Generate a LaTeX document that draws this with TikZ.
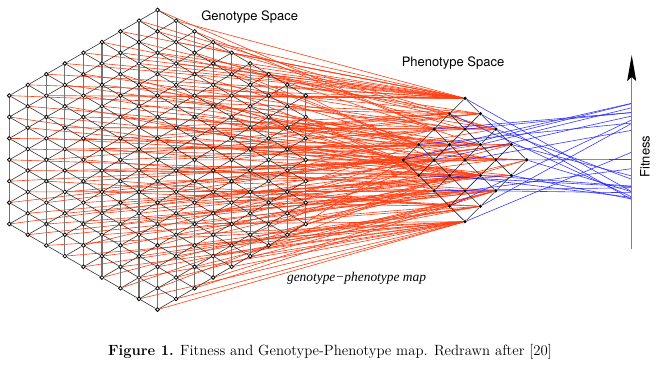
\documentclass[tikz,border=0pt]{standalone}
\usepackage{fontspec}
\newfontfamily\helv{TeX Gyre Heros}
\newfontfamily\timesf{Liberation Serif}
\usetikzlibrary{arrows.meta}
\definecolor{mapred}{RGB}{255,62,18}
\definecolor{mapblue}{RGB}{35,35,255}
\pgfdeclarelayer{back}
\pgfdeclarelayer{mid}
\pgfsetlayers{back,mid,main}
\begin{document}
\begin{tikzpicture}[x=1pt,y=-1pt,
  gnode/.style={circle,draw=black,fill=white,line width=0.8pt,inner sep=0pt,minimum size=3.8pt},
  pnode/.style={circle,fill=black,inner sep=0pt,minimum size=3.6pt},
  vedge/.style={draw=black!55,line width=1.1pt},
  dedge/.style={draw=black!80,line width=0.6pt},
  pedge/.style={draw=black!85,line width=0.6pt},
  redmap/.style={draw=mapred,line width=0.6pt},
  bluemap/.style={draw=mapblue,line width=0.6pt,draw opacity=0.9},
  axisline/.style={draw=black!50,line width=1.2pt,-{Stealth[length=26pt,width=9pt,inset=4pt,black]}},
  lbl/.style={font=\helv\fontsize{13}{15}\selectfont,inner sep=0pt},
]
\path[use as bounding box] (0,0) rectangle (660,368);

% genotype nodes
\foreach \c in {0,...,16}{
  \pgfmathtruncatemacro{\m}{min(\c,16-\c)}
  \pgfmathtruncatemacro{\n}{6+\m}
  \foreach \k in {0,...,\n}{
    \node[gnode] (g-\c-\k) at ({9.3+18.53*\c},{95.6-10.7*\m+21.4*\k}) {};
  }
}

% phenotype nodes
\foreach \i in {0,...,4}{
  \foreach \j in {0,...,4}{
    \node[pnode] (p-\i-\j) at ({465+15.42*(\i-\j)},{98.3+15.42*(\i+\j)}) {};
  }
}

% fitness axis
\coordinate (axb) at (631.7,249);
\coordinate (axt) at (631.7,55);
\draw[axisline] (axb) -- (axt);

% labels
\node[lbl,anchor=base] (gs) at (249.7,20.8) {Genotype Space};
\node[lbl,anchor=base] (ps) at (453,66.7) {Phenotype Space};
\node[lbl,rotate=90] (fit) at (645,156.5) {Fitness};
\node[font=\timesf\itshape\fontsize{13.4}{15}\selectfont,inner sep=0pt] (gpm) at (356.5,278) {genotype\textminus phenotype map};
\node[font=\fontsize{14.8}{17}\selectfont,inner sep=0pt,anchor=base] (cap) at (330,355.7) {\textbf{Figure 1.} Fitness and Genotype-Phenotype map. Redrawn after [20]};

% red genotype-phenotype map
\pgfmathsetseed{11}
\begin{pgfonlayer}{back}
\foreach \c in {0,...,16}{
  \pgfmathtruncatemacro{\m}{min(\c,16-\c)}
  \pgfmathtruncatemacro{\n}{6+\m}
  \foreach \k in {0,...,\n}{
    \pgfmathsetmacro{\ty}{(95.6-10.7*\m+21.4*\k-10)/300}
    \pgfmathrandominteger{\nz}{-2}{2}
    \pgfmathtruncatemacro{\sr}{max(0,min(8,round(8*\ty)+\nz))}
    \pgfmathtruncatemacro{\wr}{min(\sr,8-\sr)}
    \pgfmathrandominteger{\qq}{0}{\wr}
    \pgfmathtruncatemacro{\pa}{(\sr-\wr+2*\qq)/2}
    \pgfmathtruncatemacro{\pb}{(\sr+\wr-2*\qq)/2}
    \draw[redmap] (g-\c-\k) -- (p-\pa-\pb);
  }
}
% blue fitness map
\foreach \i in {0,...,4}{
  \foreach \j in {0,...,4}{
    \pgfmathsetmacro{\fy}{103+97*rnd}
    \coordinate (f-\i-\j) at (631.7,\fy);
    \draw[bluemap] (p-\i-\j) -- (f-\i-\j);
  }
}
\end{pgfonlayer}

% lattice edges
\begin{pgfonlayer}{mid}
\foreach \c in {0,...,16}{
  \pgfmathtruncatemacro{\n}{5+min(\c,16-\c)}
  \foreach \k in {0,...,\n}{
    \pgfmathtruncatemacro{\kk}{\k+1}
    \draw[vedge] (g-\c-\k) -- (g-\c-\kk);
  }
}
\foreach \c in {0,...,7}{
  \pgfmathtruncatemacro{\n}{6+\c}
  \pgfmathtruncatemacro{\cc}{\c+1}
  \foreach \k in {0,...,\n}{
    \pgfmathtruncatemacro{\kk}{\k+1}
    \draw[dedge] (g-\c-\k) -- (g-\cc-\k);
    \draw[dedge] (g-\c-\k) -- (g-\cc-\kk);
  }
}
\foreach \c in {8,...,15}{
  \pgfmathtruncatemacro{\cc}{\c+1}
  \pgfmathtruncatemacro{\n}{6+min(\cc,16-\cc)}
  \foreach \k in {0,...,\n}{
    \pgfmathtruncatemacro{\kk}{\k+1}
    \draw[dedge] (g-\cc-\k) -- (g-\c-\k);
    \draw[dedge] (g-\cc-\k) -- (g-\c-\kk);
  }
}
\foreach \i in {0,...,4}{
  \foreach \j in {0,...,3}{
    \pgfmathtruncatemacro{\jj}{\j+1}
    \draw[pedge] (p-\i-\j) -- (p-\i-\jj);
    \draw[pedge] (p-\j-\i) -- (p-\jj-\i);
  }
}
\end{pgfonlayer}
\end{tikzpicture}
\end{document}
